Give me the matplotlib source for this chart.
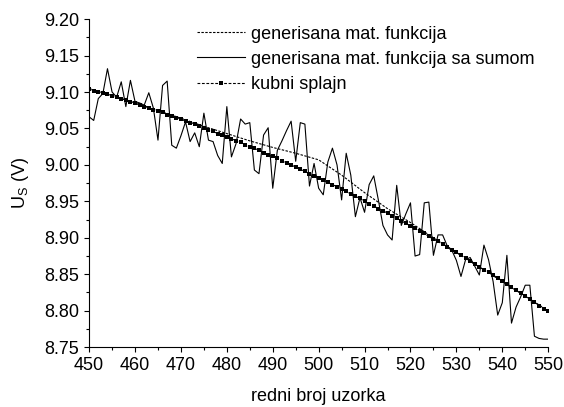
import matplotlib
matplotlib.use("Agg")
import matplotlib.pyplot as plt
from matplotlib.ticker import MultipleLocator, FormatStrFormatter

plt.rcParams["font.family"] = ["Liberation Sans", "DejaVu Sans"]
plt.rcParams["mathtext.fontset"] = "custom"
plt.rcParams["mathtext.rm"] = "Liberation Sans"
plt.rcParams["mathtext.it"] = "Liberation Sans:italic"

# sample index 450..550
samples = list(range(450, 551))

# generated function (smooth, read every 5 samples)
func_x = list(range(450, 551, 5))
func_y = [9.105, 9.095, 9.085, 9.075, 9.064, 9.053, 9.043, 9.033, 9.024,
          9.016, 9.007, 8.986, 8.962, 8.940, 8.921, 8.900, 8.880, 8.860,
          8.840, 8.820, 8.800]

# generated function with noise
noisy_y = [9.066, 9.061, 9.091, 9.098, 9.132, 9.100, 9.093, 9.114, 9.080, 9.116,
           9.087, 9.085, 9.082, 9.099, 9.078, 9.034, 9.109, 9.115, 9.027, 9.023,
           9.040, 9.059, 9.032, 9.044, 9.025, 9.071, 9.034, 9.032, 9.013, 9.002,
           9.080, 9.011, 9.029, 9.063, 9.056, 9.058, 8.993, 8.988, 9.041, 9.051,
           8.968, 9.020, 9.033, 9.047, 9.060, 9.005, 9.058, 9.056, 8.971, 9.002,
           8.968, 8.959, 9.004, 9.023, 9.000, 8.952, 9.016, 8.986, 8.929, 8.955,
           8.935, 8.973, 8.985, 8.952, 8.917, 8.904, 8.897, 8.972, 8.917, 8.933,
           8.948, 8.875, 8.877, 8.948, 8.949, 8.876, 8.904, 8.904, 8.889, 8.883,
           8.869, 8.847, 8.870, 8.873, 8.861, 8.849, 8.890, 8.870, 8.840, 8.794,
           8.811, 8.876, 8.783, 8.805, 8.819, 8.835, 8.835, 8.765, 8.762, 8.761,
           8.761]

# cubic spline, one marker per sample
spline_y = [9.104, 9.102, 9.100, 9.098, 9.097, 9.095, 9.093, 9.091, 9.089, 9.087,
            9.085, 9.082, 9.080, 9.078, 9.076, 9.074, 9.072, 9.069, 9.067, 9.065,
            9.063, 9.060, 9.058, 9.056, 9.053, 9.051, 9.048, 9.046, 9.043, 9.041,
            9.038, 9.036, 9.033, 9.031, 9.028, 9.025, 9.023, 9.020, 9.017, 9.014,
            9.012, 9.009, 9.006, 9.003, 9.000, 8.997, 8.994, 8.991, 8.988, 8.985,
            8.982, 8.979, 8.976, 8.973, 8.970, 8.967, 8.964, 8.960, 8.957, 8.954,
            8.950, 8.947, 8.944, 8.940, 8.937, 8.934, 8.930, 8.927, 8.923, 8.920,
            8.916, 8.913, 8.909, 8.906, 8.902, 8.898, 8.895, 8.891, 8.887, 8.883,
            8.880, 8.876, 8.872, 8.868, 8.864, 8.860, 8.856, 8.853, 8.849, 8.845,
            8.841, 8.837, 8.832, 8.828, 8.824, 8.820, 8.816, 8.812, 8.807, 8.803,
            8.799]

labels = ["generisana mat. funkcija", "generisana mat. funkcija sa sumom",
          "kubni splajn"]

fig = plt.figure(figsize=(5.64, 4.07), dpi=100)
ax = fig.add_axes([0.158, 0.147, 0.814, 0.806])

ax.plot(func_x, func_y, color="black", linestyle=(0, (2.2, 1.3)), linewidth=0.8,
        label=labels[0], zorder=3)
ax.plot(samples, noisy_y, color="black", linewidth=0.8, label=labels[1], zorder=2)
ax.plot(samples, spline_y, color="black", linestyle=(0, (2.5, 1.5)), linewidth=0.8,
        marker="s", markersize=2.8, markeredgewidth=0, label=labels[2], zorder=4)

ax.set_xlim(450, 550)
ax.set_ylim(8.75, 9.20)
ax.xaxis.set_major_locator(MultipleLocator(10))
ax.xaxis.set_minor_locator(MultipleLocator(5))
ax.yaxis.set_major_locator(MultipleLocator(0.05))
ax.yaxis.set_minor_locator(MultipleLocator(0.025))
ax.yaxis.set_major_formatter(FormatStrFormatter("%.2f"))
ax.tick_params(which="major", direction="out", length=3.6, width=0.8, labelsize=13)
ax.tick_params(which="minor", direction="out", length=2.2, width=0.8)
for side in ("top", "right"):
    ax.spines[side].set_visible(False)

ax.set_xlabel("redni broj uzorka", fontsize=13, labelpad=10)
ax.set_ylabel(r"U$_\mathrm{S}$ (V)", fontsize=13, labelpad=9.5)

ax.legend(loc="upper left", bbox_to_anchor=(0.349, 0.937),
          bbox_transform=fig.transFigure, frameon=False, fontsize=13,
          handlelength=2.65, handletextpad=0.33, labelspacing=0.45,
          borderpad=0, borderaxespad=0)

fig.savefig("out.png", dpi=100)
